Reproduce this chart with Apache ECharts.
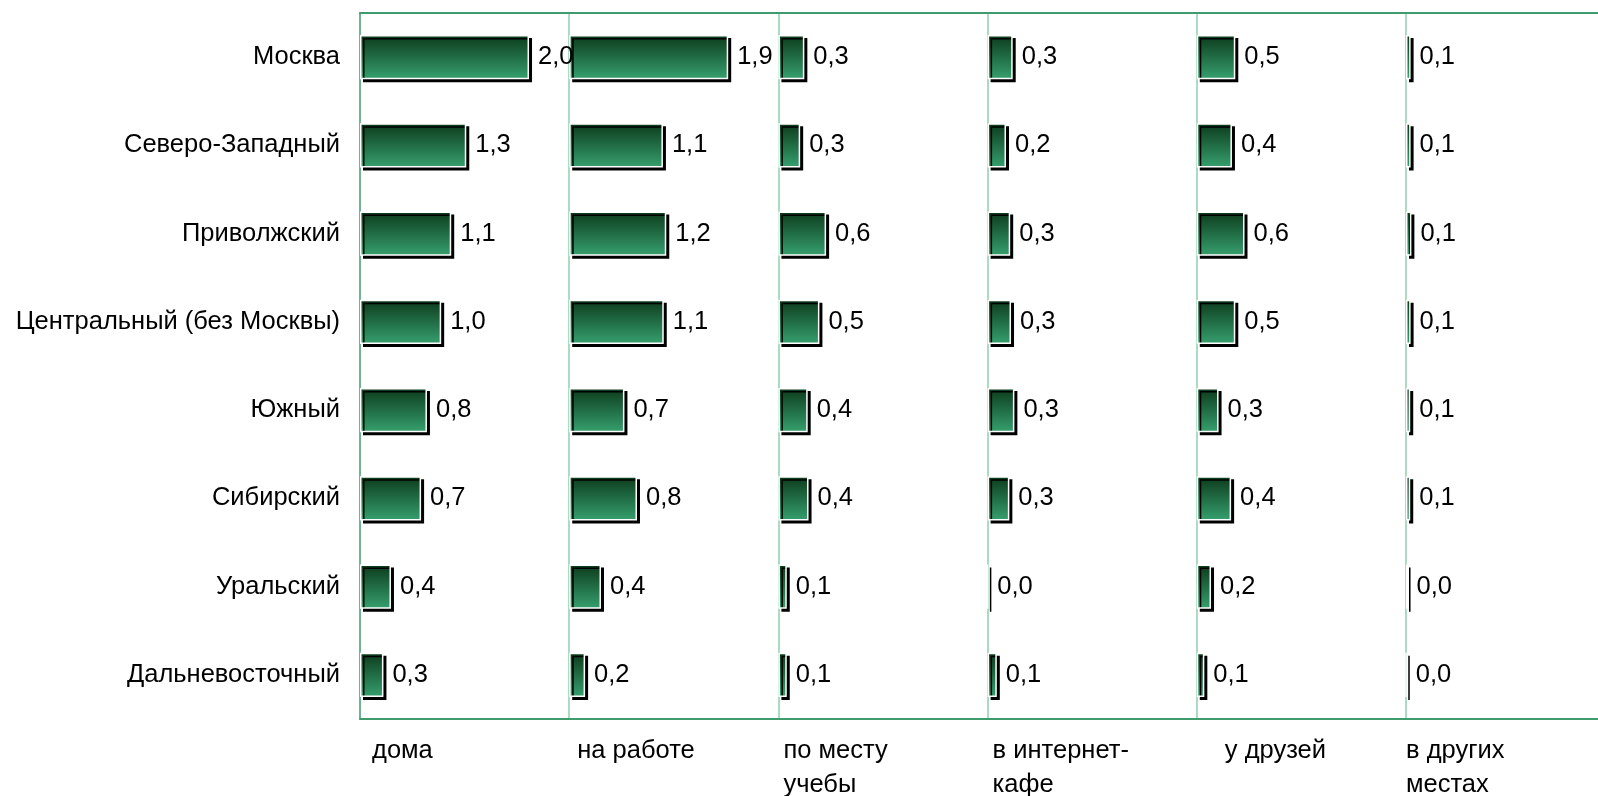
<!DOCTYPE html>
<html>
<head>
<meta charset="utf-8">
<script src="https://cdn.jsdelivr.net/npm/echarts@6/dist/echarts.min.js"></script>
<style>
html,body{margin:0;padding:0;background:#fff;}
#chart{width:1598px;height:796px;}
</style>
</head>
<body>
<div id="chart"></div>
<script>
// ---- data ----
var regions = ['Москва', 'Северо-Западный', 'Приволжский', 'Центральный (без Москвы)', 'Южный', 'Сибирский', 'Уральский', 'Дальневосточный'];
var places = ['дома', 'на работе', 'по месту\nучебы', 'в интернет-\nкафе', 'у друзей', 'в других\nместах'];
var atHome      = [2.02, 1.27, 1.09, 0.97, 0.80, 0.73, 0.37, 0.28];
var atWork      = [1.90, 1.12, 1.16, 1.13, 0.66, 0.81, 0.38, 0.19];
var atStudy     = [0.31, 0.26, 0.57, 0.49, 0.35, 0.36, 0.10, 0.10];
var atCafe      = [0.30, 0.22, 0.27, 0.28, 0.32, 0.26, 0.00, 0.11];
var atFriends   = [0.46, 0.42, 0.57, 0.46, 0.26, 0.41, 0.17, 0.09];
var elsewhere   = [0.06, 0.06, 0.07, 0.06, 0.055, 0.055, 0.02, 0.00];
var panelValues = [atHome, atWork, atStudy, atCafe, atFriends, elsewhere];
var axisMax = 2.5;

// ---- layout ----
var plotLeft = 360, panelW = 209.2, plotTop = 13, plotH = 706;
var labelOffsets = [12, 8, 5, 5, 28, 0];
var FONT = "'Liberation Sans', Arial, sans-serif";
var FS = 25.5;

var grids = [], xAxes = [], yAxes = [], series = [], titles = [];
panelValues.forEach(function (vals, i) {
  var left = plotLeft + i * panelW;
  grids.push({left: left, top: plotTop, width: panelW, height: plotH, containLabel: false});
  xAxes.push({
    type: 'value', gridIndex: i, min: 0, max: axisMax, position: 'bottom',
    axisLine: {show: true, lineStyle: {color: '#3d9b6c', width: 2}},
    axisTick: {show: false}, axisLabel: {show: false}, splitLine: {show: false}
  });
  xAxes.push({
    type: 'value', gridIndex: i, min: 0, max: axisMax, position: 'top',
    axisLine: {show: true, lineStyle: {color: '#3d9b6c', width: 2}},
    axisTick: {show: false}, axisLabel: {show: false}, splitLine: {show: false}
  });
  yAxes.push({
    type: 'category', gridIndex: i, data: regions, inverse: true,
    axisLine: {show: true, lineStyle: {color: i === 0 ? '#3d9b6c' : '#8fd0ae', width: 1.5}},
    axisTick: {show: false},
    axisLabel: {show: i === 0, color: '#000', fontSize: FS, fontFamily: FONT, margin: 20},
    splitLine: {show: false}
  });
  series.push({
    type: 'bar', xAxisIndex: i * 2, yAxisIndex: i, data: vals,
    barWidth: '50%', z: 5,
    itemStyle: {
      color: new echarts.graphic.LinearGradient(0, 0, 0, 1, [
        {offset: 0, color: '#0c3a1b'},
        {offset: 1, color: '#36a06e'}
      ]),
      borderColor: '#ffffff', borderWidth: 1.5,
      shadowColor: '#000000', shadowOffsetX: 3, shadowOffsetY: 3, shadowBlur: 0
    },
    label: {
      show: true, position: 'right', distance: 9, color: '#000',
      fontSize: FS, fontFamily: FONT,
      formatter: function (p) { return (Math.round(p.value * 10) / 10).toFixed(1).replace('.', ','); }
    }
  });
  titles.push({
    text: places[i], left: left + labelOffsets[i], top: 734, padding: 0,
    textStyle: {fontSize: FS, fontWeight: 'normal', color: '#000', fontFamily: FONT, lineHeight: 34}
  });
});

var chart = echarts.init(document.getElementById('chart'), null, {renderer: 'canvas'});
chart.setOption({
  backgroundColor: '#ffffff',
  animation: false,
  title: titles,
  grid: grids,
  xAxis: xAxes,
  yAxis: yAxes,
  series: series
});
</script>
</body>
</html>
